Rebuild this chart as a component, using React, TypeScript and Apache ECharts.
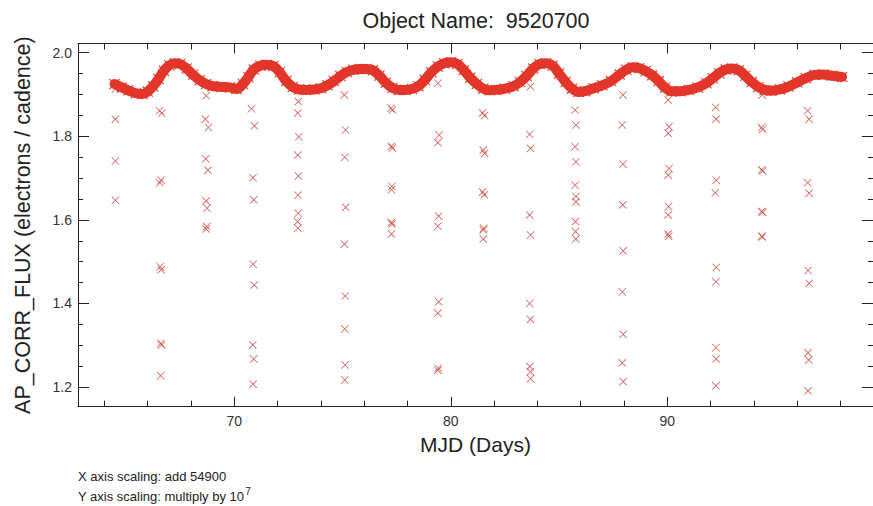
import React, { useEffect, useRef } from 'react';
import * as echarts from 'echarts';

// Light curve of object 9520700: main photometric track (days after MJD 54900, flux / 1e7)
const curveDays = [
  64.47, 64.8, 65.1, 65.45, 65.75, 66.0, 66.25, 66.5, 66.75, 67.0, 67.25, 67.5, 67.8, 68.1,
  68.4, 68.7, 69.0, 69.4, 69.8, 70.1, 70.4, 70.65, 70.9, 71.2, 71.5, 71.8, 72.1, 72.4,
  72.7, 73.0, 73.3, 73.7, 74.0, 74.3, 74.6, 74.9, 75.2, 75.5, 75.8, 76.1, 76.4, 76.7,
  77.0, 77.3, 77.6, 77.9, 78.2, 78.5, 78.8, 79.1, 79.4, 79.7, 80.0, 80.3, 80.6, 80.9,
  81.2, 81.5, 81.8, 82.1, 82.5, 82.9, 83.2, 83.5, 83.8, 84.1, 84.4, 84.7, 85.0, 85.3,
  85.6, 85.9, 86.2, 86.6, 87.0, 87.4, 87.8, 88.1, 88.4, 88.7, 89.0, 89.3, 89.6, 89.9,
  90.2, 90.6, 91.0, 91.4, 91.8, 92.1, 92.4, 92.7, 93.0, 93.3, 93.6, 93.9, 94.2, 94.5,
  94.8, 95.2, 95.6, 96.0, 96.4, 96.8, 97.2, 97.6, 98.07,
];
const curveFlux = [
  1.925, 1.917, 1.910, 1.903, 1.901, 1.907, 1.920, 1.937, 1.957, 1.970, 1.975, 1.973, 1.962, 1.947,
  1.934, 1.925, 1.920, 1.918, 1.917, 1.913, 1.925, 1.942, 1.960, 1.969, 1.971, 1.968, 1.953, 1.932,
  1.918, 1.912, 1.911, 1.912, 1.915, 1.922, 1.932, 1.944, 1.954, 1.959, 1.961, 1.961, 1.958, 1.945,
  1.928, 1.916, 1.911, 1.911, 1.913, 1.920, 1.935, 1.953, 1.967, 1.975, 1.977, 1.973, 1.958, 1.940,
  1.925, 1.914, 1.910, 1.911, 1.914, 1.920, 1.930, 1.944, 1.962, 1.973, 1.975, 1.969, 1.950, 1.930,
  1.914, 1.906, 1.908, 1.915, 1.922, 1.932, 1.948, 1.959, 1.965, 1.963, 1.956, 1.946, 1.932, 1.916,
  1.908, 1.908, 1.911, 1.917, 1.927, 1.939, 1.951, 1.960, 1.962, 1.958, 1.945, 1.930, 1.918, 1.911,
  1.909, 1.912, 1.919, 1.929, 1.939, 1.947, 1.948, 1.945, 1.942,
];

// Low-flux cadences that fall below the main track
const outlierDays = [
  64.51, 64.51, 64.51, 64.51,
  66.55, 66.65, 66.62, 66.56, 66.58, 66.62, 66.60, 66.64, 66.60,
  68.70, 68.66, 68.80, 68.68, 68.78, 68.70, 68.74, 68.72, 68.70,
  70.79, 70.93, 70.86, 70.90, 70.87, 70.92, 70.85, 70.90, 70.87,
  72.96, 72.93, 72.98, 72.93, 72.96, 72.94, 72.95, 72.92, 72.94,
  75.08, 75.14, 75.10, 75.14, 75.09, 75.12, 75.10, 75.12, 75.10,
  77.24, 77.30, 77.26, 77.30, 77.28, 77.26, 77.26, 77.28, 77.26,
  79.40, 79.46, 79.40, 79.44, 79.40, 79.44, 79.40, 79.42, 79.40,
  81.47, 81.56, 81.50, 81.56, 81.47, 81.55, 81.52, 81.50, 81.50,
  83.68, 83.64, 83.68, 83.64, 83.68, 83.64, 83.68, 83.65, 83.68, 83.68,
  85.74, 85.78, 85.74, 85.78, 85.74, 85.78, 85.78, 85.76, 85.76, 85.77,
  87.95, 87.92, 87.96, 87.94, 87.96, 87.92, 87.96, 87.92, 87.96,
  90.04, 90.08, 90.04, 90.08, 90.04, 90.06, 90.04, 90.04, 90.06,
  92.23, 92.26, 92.26, 92.22, 92.26, 92.24, 92.24, 92.26, 92.24,
  94.38, 94.36, 94.40, 94.36, 94.40, 94.36, 94.40, 94.36, 94.39,
  96.48, 96.55, 96.48, 96.55, 96.50, 96.55, 96.50, 96.53, 96.50,
];
const outlierFlux = [
  1.913, 1.841, 1.741, 1.647,
  1.861, 1.855, 1.695, 1.689, 1.488, 1.481, 1.305, 1.301, 1.227,
  1.897, 1.841, 1.821, 1.746, 1.719, 1.645, 1.628, 1.584, 1.578,
  1.866, 1.825, 1.701, 1.648, 1.494, 1.444, 1.301, 1.267, 1.207,
  1.883, 1.856, 1.799, 1.755, 1.705, 1.659, 1.616, 1.596, 1.580,
  1.899, 1.815, 1.750, 1.630, 1.542, 1.418, 1.339, 1.253, 1.217,
  1.867, 1.863, 1.776, 1.772, 1.680, 1.672, 1.594, 1.590, 1.566,
  1.927, 1.803, 1.785, 1.609, 1.585, 1.404, 1.377, 1.245, 1.240,
  1.856, 1.849, 1.767, 1.759, 1.667, 1.660, 1.580, 1.576, 1.554,
  1.919, 1.805, 1.771, 1.612, 1.564, 1.400, 1.362, 1.249, 1.237, 1.220,
  1.863, 1.827, 1.775, 1.739, 1.683, 1.656, 1.643, 1.596, 1.572, 1.554,
  1.899, 1.827, 1.733, 1.636, 1.526, 1.428, 1.326, 1.258, 1.213,
  1.887, 1.823, 1.807, 1.723, 1.707, 1.632, 1.612, 1.566, 1.561,
  1.869, 1.841, 1.695, 1.665, 1.486, 1.452, 1.294, 1.267, 1.203,
  1.899, 1.821, 1.817, 1.720, 1.717, 1.620, 1.618, 1.561, 1.559,
  1.861, 1.841, 1.689, 1.664, 1.479, 1.448, 1.282, 1.265, 1.191,
];

const titleText = 'Object Name:  9520700';
const xName = 'MJD (Days)';
const yName = 'AP_CORR_FLUX (electrons / cadence)';
const xScalingNote = 'X axis scaling: add 54900';
const yScalingNote = 'Y axis scaling: multiply by 10';
const yScalingPower = '7';

const FONT = '"Liberation Sans", Arial, Helvetica, sans-serif';
const AXIS = '#222';
const CROSS = 'path://M0,0.7 L0.7,0 L5,4.3 L9.3,0 L10,0.7 L5.7,5 L10,9.3 L9.3,10 L5,5.7 L0.7,10 L0,9.3 L4.3,5 Z';

const X_MIN = 62.78;
const X_MAX = 99.5;
const Y_MIN = 1.1531;
const Y_MAX = 2.022;

function xAxisCfg(position: 'bottom' | 'top', labelled: boolean) {
  return {
    type: 'value',
    position,
    min: X_MIN,
    max: X_MAX,
    axisLine: { show: true, onZero: false, lineStyle: { color: AXIS, width: 1 } },
    axisTick: { show: true, inside: true, length: 10, lineStyle: { color: AXIS, width: 1 } },
    minorTick: { show: true, splitNumber: 5, length: 6, lineStyle: { color: AXIS, width: 1 } },
    splitLine: { show: false },
    minorSplitLine: { show: false },
    axisLabel: {
      show: labelled,
      showMinLabel: false,
      showMaxLabel: false,
      fontSize: 14,
      color: '#333',
      fontFamily: FONT,
      margin: 7,
    },
    ...(labelled
      ? {
          name: xName,
          nameLocation: 'middle',
          nameGap: 27,
          nameTextStyle: { fontSize: 21, color: AXIS, fontFamily: FONT },
        }
      : {}),
  };
}

function yAxisCfg(position: 'left' | 'right', labelled: boolean) {
  return {
    type: 'value',
    position,
    min: Y_MIN,
    max: Y_MAX,
    axisLine: { show: true, onZero: false, lineStyle: { color: AXIS, width: 1 } },
    axisTick: { show: true, inside: true, length: 11, lineStyle: { color: AXIS, width: 1 } },
    minorTick: { show: true, splitNumber: 4, length: 5, lineStyle: { color: AXIS, width: 1 } },
    splitLine: { show: false },
    minorSplitLine: { show: false },
    axisLabel: {
      show: labelled,
      showMinLabel: false,
      showMaxLabel: false,
      fontSize: 14,
      color: '#333',
      fontFamily: FONT,
      margin: 6,
      formatter: (v: number) => v.toFixed(1),
    },
    ...(labelled
      ? {
          name: yName,
          nameLocation: 'middle',
          nameGap: 44,
          nameTextStyle: { fontSize: 21.5, color: AXIS, fontFamily: FONT },
        }
      : {}),
  };
}

export default function App() {
  const ref = useRef<HTMLDivElement>(null);

  useEffect(() => {
    document.body.style.margin = '0';
    if (!ref.current) return;
    const chart = echarts.init(ref.current, undefined, { renderer: 'svg' });

    const curveData = curveDays.map((d, i) => [d, curveFlux[i]]);
    const outlierData = outlierDays.map((d, i) => [d, outlierFlux[i]]);

    chart.setOption({
      animation: false,
      backgroundColor: '#fff',
      grid: { left: 78, right: -1, top: 43.5, bottom: 99.3, containLabel: false },
      xAxis: [xAxisCfg('bottom', true), xAxisCfg('top', false)],
      yAxis: [yAxisCfg('left', true), yAxisCfg('right', false)],
      series: [
        {
          type: 'scatter',
          data: outlierData,
          symbol: CROSS,
          symbolSize: 8,
          itemStyle: { color: '#c8372e' },
          z: 2,
        },
        {
          type: 'line',
          data: curveData,
          smooth: 0.4,
          lineStyle: { color: '#e3362b', width: 10, cap: 'round', join: 'round' },
          symbol: CROSS,
          symbolSize: 11,
          showSymbol: true,
          itemStyle: { color: '#e3362b' },
          z: 3,
        },
      ],
      graphic: [
        {
          type: 'text',
          x: 476,
          y: 21,
          style: {
            text: titleText,
            fontSize: 21.5,
            fontFamily: FONT,
            fill: AXIS,
            align: 'center',
            verticalAlign: 'middle',
          },
        },
        {
          type: 'text',
          x: 78,
          y: 476,
          style: {
            text: xScalingNote,
            fontSize: 13,
            fontFamily: FONT,
            fill: '#222',
            align: 'left',
            verticalAlign: 'middle',
          },
        },
        {
          type: 'text',
          x: 78,
          y: 495,
          style: {
            text: `{b|${yScalingNote}}{s|${yScalingPower}}`,
            align: 'left',
            verticalAlign: 'middle',
            rich: {
              b: { fontSize: 13, fontFamily: FONT, fill: '#222', lineHeight: 16, verticalAlign: 'bottom' },
              s: {
                fontSize: 10,
                fontFamily: FONT,
                fill: '#222',
                lineHeight: 16,
                verticalAlign: 'bottom',
                padding: [0, 0, 7, 1],
              },
            },
          },
        },
      ],
    });

    return () => chart.dispose();
  }, []);

  return <div ref={ref} style={{ width: 873, height: 506 }} />;
}
